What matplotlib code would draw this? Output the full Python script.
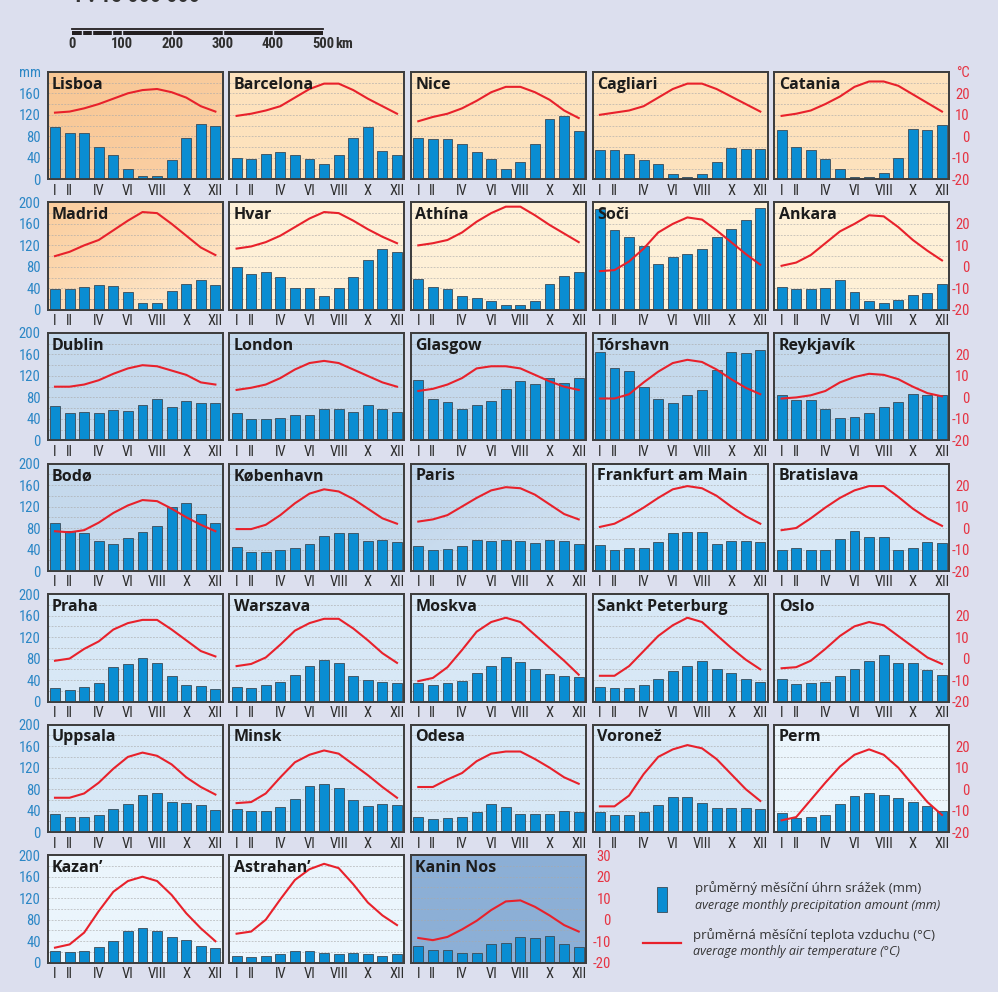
import numpy as np
import matplotlib.pyplot as plt
from matplotlib import font_manager
from matplotlib.colors import to_rgb
from matplotlib.lines import Line2D
from matplotlib.patches import Rectangle

# monthly precipitation (mm) and mean air temperature (deg C), January..December
lisboa_mm = [97, 87, 86, 60, 46, 19, 6, 6, 36, 76, 102, 99]
lisboa_t = [11, 11.5, 13, 15, 17.5, 20, 21.5, 22, 20.5, 18, 14, 11.5]
barcelona_mm = [40, 38, 47, 50, 45, 38, 28, 45, 77, 98, 52, 45]
barcelona_t = [9.5, 10.5, 12, 14, 18, 22, 24.5, 24.5, 21.5, 17.5, 14, 10.5]
nice_mm = [77, 75, 75, 66, 50, 38, 20, 33, 66, 112, 118, 89]
nice_t = [7, 9, 10.5, 13, 16.5, 20.5, 23, 23, 20.5, 17, 12, 8.5]
cagliari_mm = [55, 55, 47, 36, 28, 10, 4, 10, 32, 59, 56, 56]
cagliari_t = [10, 11, 12, 14, 18, 22, 24.5, 24.5, 22, 18.5, 15, 11.5]
catania_mm = [92, 60, 55, 37, 19, 4, 4, 12, 39, 94, 92, 101]
catania_t = [9.5, 10.5, 12, 15, 18.5, 23, 25.5, 25.5, 23.5, 19.5, 15.5, 11.5]

madrid_mm = [38, 38, 42, 47, 45, 34, 13, 13, 36, 49, 56, 47]
madrid_t = [5, 7, 10, 12.5, 17, 21.5, 25.5, 25, 20, 14.5, 9, 5.5]
hvar_mm = [80, 67, 71, 62, 41, 41, 25, 40, 62, 92, 113, 108]
hvar_t = [8.5, 9.5, 11.5, 14.5, 18.5, 22.5, 25.5, 25, 21.5, 17.5, 14, 11]
athina_mm = [58, 43, 39, 25, 22, 16, 9, 9, 16, 48, 63, 71]
athina_t = [10, 11, 12.5, 16, 21, 25, 28, 28, 24, 19.5, 15.5, 11.5]
soci_mm = [187, 148, 136, 118, 85, 99, 104, 113, 136, 150, 168, 189]
soci_t = [-2, -1.5, 2.5, 8.5, 16, 20, 23, 22, 17, 11.5, 6, 1]
ankara_mm = [43, 38, 38, 40, 55, 34, 16, 12, 18, 27, 32, 49]
ankara_t = [0.5, 2, 5.5, 11, 16.5, 20, 24, 23.5, 18.5, 12.5, 7.5, 3]

dublin_mm = [64, 51, 53, 51, 57, 55, 66, 77, 62, 73, 69, 69]
dublin_t = [5, 5, 6, 8, 11, 13.5, 15, 14.5, 12.5, 10.5, 7, 6]
london_mm = [51, 39, 39, 41, 48, 48, 59, 59, 53, 66, 59, 53]
london_t = [3.5, 4.5, 6, 9, 13, 16, 17, 16, 13, 10, 7, 5]
glasgow_mm = [112, 77, 71, 59, 66, 73, 95, 110, 105, 116, 107, 116]
glasgow_t = [3, 4, 6, 9, 13.5, 14.5, 14.5, 13.5, 10.5, 7.5, 5, 3.5]
torshavn_mm = [165, 134, 129, 99, 77, 69, 84, 94, 131, 164, 162, 168]
torshavn_t = [-0.5, -0.5, 1.5, 7, 12, 16, 17.5, 16.5, 13, 8.5, 4.5, 1.5]
reykjavik_mm = [85, 76, 76, 58, 42, 44, 51, 62, 71, 87, 84, 85]
reykjavik_t = [-0.5, 0, 1, 3, 7, 9.5, 11, 10.5, 8.5, 5, 2, 0.5]

bodo_mm = [89, 75, 70, 56, 51, 61, 73, 84, 119, 126, 106, 89]
bodo_t = [-1.5, -2, -1, 2.5, 7, 10.5, 13, 12.5, 9, 5, 1.5, -1.5]
kobenhavn_mm = [44, 35, 35, 39, 42, 51, 66, 70, 70, 56, 58, 54]
kobenhavn_t = [-0.5, -0.5, 1.5, 6, 11.5, 16, 18, 17, 13.5, 9, 4.5, 2]
paris_mm = [46, 39, 41, 46, 58, 56, 58, 56, 53, 58, 56, 51]
paris_t = [3, 4, 6, 10, 14, 17.5, 19, 18.5, 15.5, 11, 6.5, 4]
frankfurt_mm = [49, 39, 42, 42, 54, 70, 72, 72, 51, 56, 56, 54]
frankfurt_t = [0.5, 2, 5.5, 9.5, 14, 18, 19.5, 18.5, 15, 10, 5.5, 2]
bratislava_mm = [39, 43, 39, 39, 59, 75, 64, 64, 39, 42, 54, 52]
bratislava_t = [-1, 0, 4.5, 9.5, 14, 17.5, 19.5, 19.5, 14.5, 9, 4.5, 1]

praha_mm = [26, 21, 28, 35, 65, 70, 82, 72, 48, 30, 29, 23]
praha_t = [-1, 0, 4.5, 8, 13.5, 16.5, 18, 18, 13.5, 8.5, 3.5, 1]
warszava_mm = [28, 26, 31, 37, 50, 66, 77, 72, 47, 40, 37, 35]
warszava_t = [-3.5, -2.5, 0.5, 6.5, 13, 16.5, 18.5, 18.5, 14, 8.5, 2.5, -2]
moskva_mm = [35, 30, 35, 39, 53, 67, 83, 73, 60, 51, 47, 45]
moskva_t = [-10.5, -9, -4, 4, 12.5, 17, 19, 17, 11, 5, -1, -7.5]
peterburg_mm = [28, 26, 26, 30, 42, 56, 67, 76, 60, 53, 42, 37]
peterburg_t = [-8, -8, -3.5, 3.5, 10.5, 15.5, 19, 17, 11, 5, -0.5, -5]
oslo_mm = [42, 33, 35, 37, 47, 61, 76, 86, 72, 72, 58, 49]
oslo_t = [-4.5, -4, -1, 4.5, 10.5, 15, 17, 15.5, 10.5, 5.5, 0.5, -2.5]

uppsala_mm = [34, 28, 28, 32, 43, 52, 69, 73, 57, 55, 50, 41]
uppsala_t = [-4, -4, -2, 3, 9.5, 15, 17, 15.5, 11.5, 5.5, 1, -2.5]
minsk_mm = [43, 39, 40, 46, 62, 85, 89, 83, 59, 48, 52, 51]
minsk_t = [-6.5, -6, -2, 5.5, 12.5, 16, 18, 16.5, 11.5, 6.5, 1, -4]
odesa_mm = [29, 24, 27, 29, 37, 52, 46, 34, 34, 34, 39, 37]
odesa_t = [1, 1, 4.5, 7.5, 13, 16.5, 17.5, 17.5, 14, 10, 5.5, 2.5]
voronez_mm = [37, 31, 31, 38, 50, 65, 65, 55, 45, 44, 44, 43]
voronez_t = [-8, -8, -3, 7, 15, 18.5, 20.5, 19, 14, 7, 0, -5.5]
perm_mm = [36, 27, 28, 31, 52, 68, 72, 70, 64, 56, 48, 40]
perm_t = [-14.5, -13, -5, 3, 10.5, 16, 18.5, 16, 10, 2, -6, -12]

kazan_mm = [22, 20, 22, 29, 41, 59, 64, 59, 47, 43, 32, 27]
kazan_t = [-13, -11.5, -6, 4, 13, 18, 20, 18, 11.5, 3, -4, -10]
astrahan_mm = [13, 11, 13, 16, 22, 22, 18, 16, 19, 16, 13, 16]
astrahan_t = [-6.5, -5.5, 0, 9.5, 18.5, 23.5, 26, 24, 16.5, 8, 2, -2.5]
kanin_mm = [31, 24, 24, 19, 19, 34, 36, 48, 46, 50, 34, 29]
kanin_t = [-8.5, -9.5, -8, -4.5, -0.5, 4.5, 8.5, 9, 6, 2, -2.5, -5.5]

stations = ["Lisboa", "Barcelona", "Nice", "Cagliari", "Catania",
            "Madrid", "Hvar", "Athína", "Soči", "Ankara",
            "Dublin", "London", "Glasgow", "Tórshavn", "Reykjavík",
            "Bodø", "København", "Paris", "Frankfurt am Main", "Bratislava",
            "Praha", "Warszava", "Moskva", "Sankt Peterburg", "Oslo",
            "Uppsala", "Minsk", "Odesa", "Voronež", "Perm",
            "Kazan’", "Astrahan’", "Kanin Nos"]
precip = [lisboa_mm, barcelona_mm, nice_mm, cagliari_mm, catania_mm,
          madrid_mm, hvar_mm, athina_mm, soci_mm, ankara_mm,
          dublin_mm, london_mm, glasgow_mm, torshavn_mm, reykjavik_mm,
          bodo_mm, kobenhavn_mm, paris_mm, frankfurt_mm, bratislava_mm,
          praha_mm, warszava_mm, moskva_mm, peterburg_mm, oslo_mm,
          uppsala_mm, minsk_mm, odesa_mm, voronez_mm, perm_mm,
          kazan_mm, astrahan_mm, kanin_mm]
temps = [lisboa_t, barcelona_t, nice_t, cagliari_t, catania_t,
         madrid_t, hvar_t, athina_t, soci_t, ankara_t,
         dublin_t, london_t, glasgow_t, torshavn_t, reykjavik_t,
         bodo_t, kobenhavn_t, paris_t, frankfurt_t, bratislava_t,
         praha_t, warszava_t, moskva_t, peterburg_t, oslo_t,
         uppsala_t, minsk_t, odesa_t, voronez_t, perm_t,
         kazan_t, astrahan_t, kanin_t]

months = np.arange(1, 13)
month_ticks = [1, 2, 4, 6, 8, 10, 12]
month_labels = ["I", "II", "IV", "VI", "VIII", "X", "XII"]
mm_ticks = [0, 40, 80, 120, 160, 200]
t_ticks = [-20, -10, 0, 10, 20, 30]
scale_km = [0, 100, 200, 300, 400, 500]
scale_breaks = [20, 40, 80, 100, 200, 300, 400]

# panel fill: (top-left colour, bottom-right colour)
PEACH = ("#fde2bd", "#fde2bd")
CREAM = ("#fef0d7", "#fef0d7")
STEEL = ("#c5d9ec", "#c5d9ec")
SKY = ("#d8e8f6", "#d8e8f6")
ICE = ("#ebf5fc", "#ebf5fc")
panel_bg = [("#f8c794", "#fbd0a5"), PEACH, PEACH, PEACH, PEACH,
            ("#fbcd9d", "#feeacf"), CREAM, CREAM, CREAM, CREAM,
            STEEL, STEEL, STEEL, STEEL, STEEL,
            STEEL, STEEL, ("#bfd4ea", "#d4e4f3"), SKY, SKY,
            SKY, SKY, SKY, SKY, SKY,
            SKY, SKY, SKY, SKY, ICE,
            ICE, ICE, ("#8cafd6", "#8cafd6")]

BG = "#dcdfee"
BAR = "#0a8dd2"
BAR_EDGE = "#3b4b57"
RED = "#e8212b"
BLUE_TXT = "#2c87c6"
RED_TXT = "#e63342"
DARK = "#2f2f2f"

# narrow face for ticks and numbers, whichever is installed first
available = {f.name for f in font_manager.fontManager.ttflist}
NARROW = "DejaVu Sans"
for cand in ["Liberation Sans Narrow", "DejaVu Sans Condensed", "Roboto Condensed",
             "Open Sans Condensed", "Liberation Sans"]:
    if cand in available:
        NARROW = cand
        break
plt.rcParams["font.family"] = NARROW

W, H = 998, 992
fig = plt.figure(figsize=(W / 100, H / 100), dpi=100)
fig.patch.set_facecolor(BG)


def fx(x):
    return x / W


def fy(y):
    return 1 - y / H


def fill_panel(ax, c1, c2):
    a = np.array(to_rgb(c1))
    b = np.array(to_rgb(c2))
    yy, xx = np.mgrid[0:1:48j, 0:1:48j]
    w = (xx + yy) / 2
    img = a + (b - a) * w[..., None]
    ax.imshow(img, extent=(0, 1, 0, 1), transform=ax.transAxes,
              aspect="auto", origin="upper", zorder=0)


col_x = [47.7, 229.3, 411.0, 592.6, 774.3]
panel_w = 175.0
panel_h = 107.5
row_top = [71.8 + 130.57 * k for k in range(7)]

for i, name in enumerate(stations):
    row, col = divmod(i, 5)
    x0, y0 = col_x[col], row_top[row]
    ax = fig.add_axes([fx(x0), fy(y0 + panel_h), panel_w / W, panel_h / H])
    fill_panel(ax, *panel_bg[i])
    for v in range(20, 200, 20):
        ax.axhline(v, color="#a9a9a9", lw=0.6, ls=(0, (2.2, 1.6)), alpha=0.7, zorder=1)
    ax.bar(months, precip[i], width=0.68, color=BAR, edgecolor=BAR_EDGE,
           linewidth=0.6, zorder=3)
    ax.set_xlim(0.5, 12.5)
    ax.set_ylim(0, 200)
    ax.set_xticks(month_ticks)
    ax.set_xticklabels(month_labels)
    ax.tick_params(axis="x", length=0, pad=3.2, labelsize=10.5, labelcolor=DARK)
    ax.set_yticks(mm_ticks)
    if col == 0:
        labels = [str(v) for v in mm_ticks]
        if row == 0:
            labels[-1] = "mm"
        ax.set_yticklabels(labels)
        ax.tick_params(axis="y", length=0, pad=5, labelsize=10.5, labelcolor=BLUE_TXT)
    else:
        ax.tick_params(axis="y", length=0, labelleft=False)

    ax2 = ax.twinx()
    ax2.plot(months, temps[i], color=RED, lw=1.5, zorder=4)
    ax2.set_ylim(-20, 30)
    ax2.set_xlim(0.5, 12.5)
    right_labels = col == 4 or name == "Kanin Nos"
    if right_labels:
        ticks = t_ticks if (row == 0 or name == "Kanin Nos") else t_ticks[:-1]
        labels = ["°C" if (v == 30 and row == 0) else str(v) for v in ticks]
        ax2.set_yticks(ticks)
        ax2.set_yticklabels(labels, ha="right")
        pad = 14.8 if col == 4 else 18.0
        ax2.tick_params(axis="y", length=0, pad=pad, labelsize=10.5, labelcolor=RED_TXT)
    else:
        ax2.set_yticks([])
    ax2.text(0.025, 0.955, name, transform=ax2.transAxes, ha="left", va="top",
             fontsize=11.5, fontweight="bold", family="Open Sans", color="#1c1c1c", zorder=6)
    for a in (ax, ax2):
        for s in a.spines.values():
            s.set_color("#3e3e3e")
            s.set_linewidth(1.3)

# scale bar
x_start, px_per_km = 72.0, 0.502
fig.add_artist(Line2D([fx(x_start), fx(x_start + 500 * px_per_km)], [fy(28.8), fy(28.8)],
                      color="#231f20", lw=1.3))
fig.add_artist(Rectangle((fx(x_start), fy(35.4)), 500 * px_per_km / W, 4.4 / H,
                         facecolor="#231f20", edgecolor="none"))
for km in scale_breaks:
    xb = fx(x_start + km * px_per_km)
    fig.add_artist(Line2D([xb, xb], [fy(31.0), fy(35.4)], color=BG, lw=1.0))
for km in scale_km:
    fig.text(fx(x_start + km * px_per_km), fy(44), str(km), ha="center", va="center",
             fontsize=10.5, fontweight="bold", color=DARK)
fig.text(fx(x_start + 500 * px_per_km + 12.5), fy(44), "km", ha="left", va="center",
         fontsize=10.5, fontweight="bold", color=DARK)
fig.text(fx(72), fy(2.5), "1 : 15 000 000", ha="left", va="baseline",
         fontsize=16, fontweight="bold", color="#333333")

# legend
fig.add_artist(Rectangle((fx(656.5), fy(912)), 10 / W, 25 / H,
                         facecolor=BAR, edgecolor=BAR_EDGE, lw=0.6))
fig.add_artist(Line2D([fx(643), fx(681)], [fy(943), fy(943)], color=RED, lw=1.6))
fig.text(fx(695), fy(888), "průměrný měsíční úhrn srážek (mm)", ha="left", va="center",
         fontsize=9.5, family="Open Sans", color="#333333")
fig.text(fx(695), fy(905), "average monthly precipitation amount (mm)", ha="left", va="center",
         fontsize=9, family="Open Sans", style="italic", color="#333333")
fig.text(fx(693), fy(935), "průměrná měsíční teplota vzduchu (°C)", ha="left", va="center",
         fontsize=9.5, family="Open Sans", color="#333333")
fig.text(fx(693), fy(951), "average monthly air temperature (°C)", ha="left", va="center",
         fontsize=9, family="Open Sans", style="italic", color="#333333")

fig.savefig("out.png", dpi=100, facecolor=BG)
